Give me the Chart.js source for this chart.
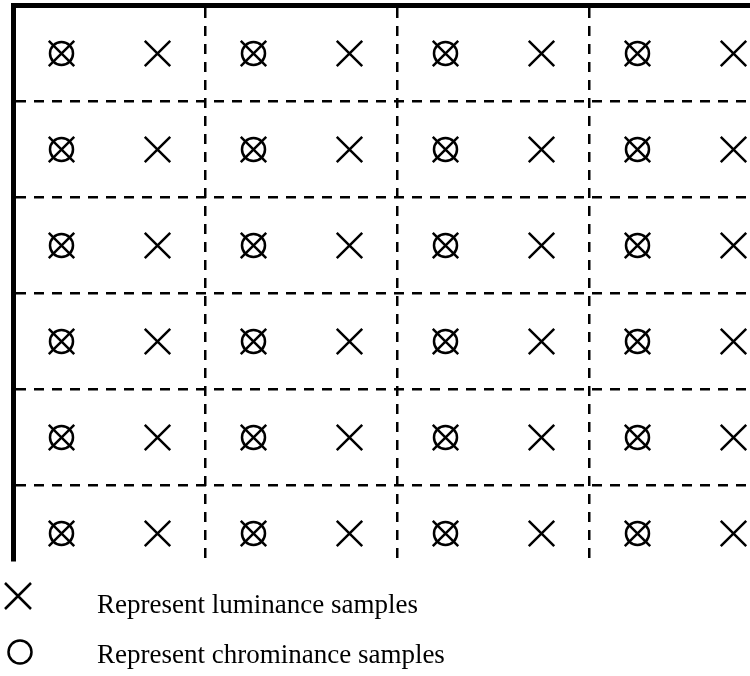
<!DOCTYPE html>
<html>
<head>
<meta charset="utf-8">
<script src="https://cdn.jsdelivr.net/npm/chart.js@4/dist/chart.umd.min.js"></script>
<style>
  body { margin: 0; background: #fff; }
  #wrap { position: relative; width: 750px; height: 676px; }
  .key { position: absolute; left: 0; font-family: "Liberation Serif", "Times New Roman", serif; font-size: 27px; line-height: 27px; color: #000; white-space: nowrap; }
  .key svg { position: absolute; left: 0; }
  .key span { position: absolute; left: 97px; top: 0; }
</style>
</head>
<body>
<div id="wrap">
  <canvas id="myChart"></canvas>
  <div class="key" style="top:591px">
    <svg width="40" height="40" style="left:-2px;top:-15px" viewBox="0 0 40 40">
      <path d="M7 7 L33 33 M33 7 L7 33" stroke="#000" stroke-width="2.5" fill="none"/>
    </svg>
    <span>Represent luminance samples</span>
  </div>
  <div class="key" style="top:641px">
    <svg width="40" height="40" style="left:0px;top:-9px" viewBox="0 0 40 40">
      <circle cx="20" cy="20" r="11.5" stroke="#000" stroke-width="2.5" fill="none"/>
    </svg>
    <span>Represent chrominance samples</span>
  </div>
</div>
<script>
// sample positions, in pixel-block units (one unit = one luma sample)
const lumaCols = [0.5, 1.5, 2.5, 3.5, 4.5, 5.5, 6.5, 7.5];
const chromaCols = [0.5, 2.5, 4.5, 6.5];
const rows = [0.5, 1.5, 2.5, 3.5, 4.5, 5.5];
const colBoundaries = [2, 4, 6];
const rowBoundaries = [1, 2, 3, 4, 5];
const xView = [0, 7.672];
const yView = [0, 5.776];

const gridOf = (cols, rows) => rows.flatMap(y => cols.map(x => ({ x: x, y: y })));

const lumaPoints = gridOf(lumaCols, rows);
const chromaPoints = gridOf(chromaCols, rows);

const data = {
    datasets: [{
        label: 'Represent luminance samples',
        data: lumaPoints,
        pointStyle: 'crossRot',
        pointRadius: 18,
        borderColor: '#000',
        borderWidth: 2.5,
        clip: false
    },
    {
        label: 'Represent chrominance samples',
        data: chromaPoints,
        pointStyle: 'circle',
        pointRadius: 11.5,
        borderColor: '#000',
        backgroundColor: 'rgba(0,0,0,0)',
        borderWidth: 2.5,
        clip: false
    }]
};

const axis = (min, max, ticks, position, reverse) => ({
    type: 'linear',
    position: position,
    reverse: reverse,
    min: min,
    max: max,
    afterBuildTicks: scale => { scale.ticks = ticks.map(v => ({ value: v })); },
    afterFit: scale => {
        if (scale.isHorizontal()) scale.height = 0; else scale.width = 0;
    },
    ticks: { display: false },
    grid: { color: '#000', lineWidth: 2.5, drawTicks: false },
    border: { display: true, color: '#000', width: 5, dash: [10, 8] }
});

// fill the top-left corner where the two thick borders meet
const cornerPlugin = {
    id: 'corner',
    afterDraw(chart) {
        const { ctx, chartArea } = chart;
        ctx.save();
        ctx.fillStyle = '#000';
        ctx.fillRect(chartArea.left - 2.5, chartArea.top - 2.5, 5, 5);
        ctx.restore();
    }
};

const config = {
    type: 'scatter',
    data: data,
    options: {
        responsive: true,
        maintainAspectRatio: false,
        animation: false,
        events: [],
        layout: { autoPadding: false, padding: { left: 13.5, top: 5.5, right: 0, bottom: 116 } },
        plugins: {
            legend: { display: false },
            tooltip: { enabled: false }
        },
        scales: {
            x: axis(xView[0], xView[1], colBoundaries, 'top', false),
            y: axis(yView[0], yView[1], rowBoundaries, 'left', true)
        }
    },
    plugins: [cornerPlugin]
};

const myChart = new Chart(document.getElementById('myChart'), config);
</script>
</body>
</html>
